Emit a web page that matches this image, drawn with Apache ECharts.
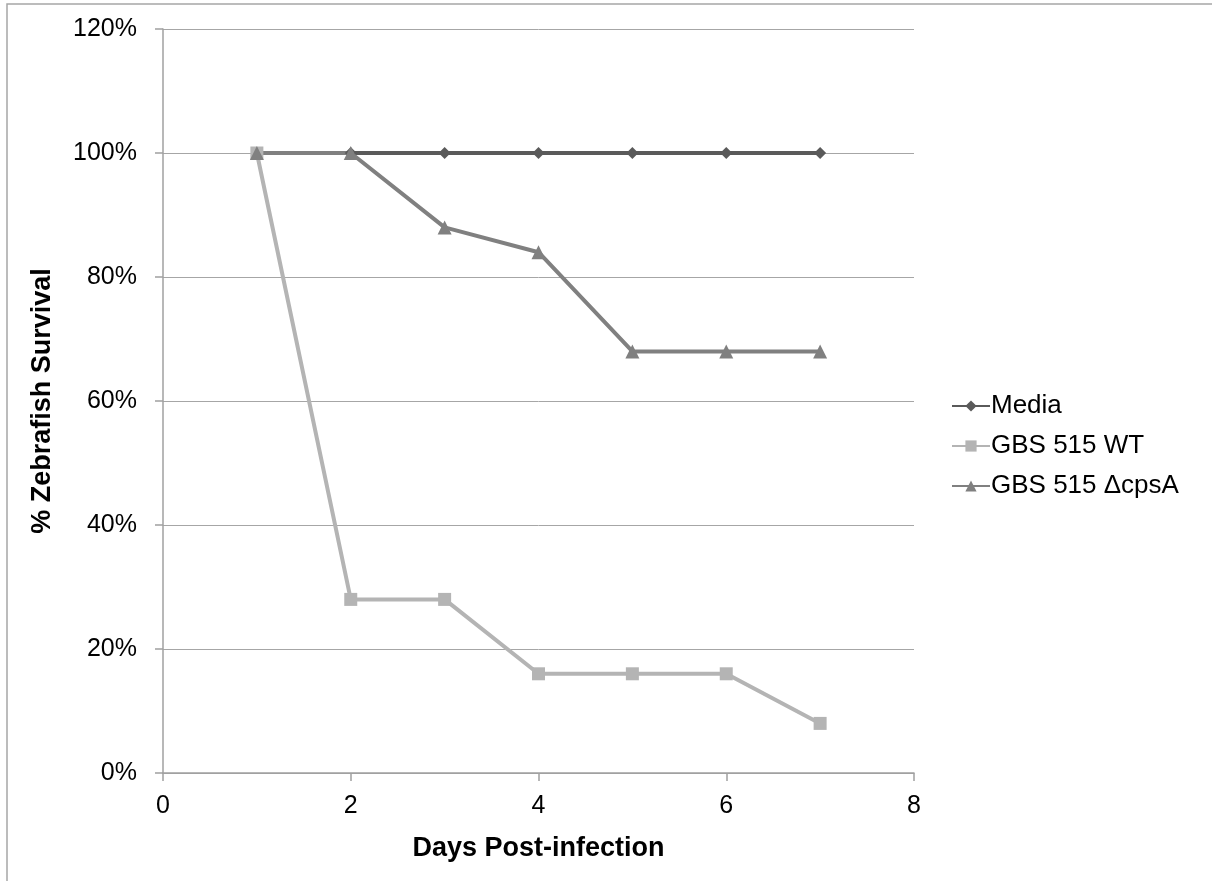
<!DOCTYPE html>
<html>
<head>
<meta charset="utf-8">
<script src="https://cdn.jsdelivr.net/npm/echarts@6/dist/echarts.min.js"></script>
<style>
  html, body { margin: 0; padding: 0; background: #fff; }
  #chart { width: 1212px; height: 881px; }
</style>
</head>
<body>
<div id="chart"></div>
<script>
// days post-infection
var days = [1, 2, 3, 4, 5, 6, 7];
// survival fractions
var media = [1, 1, 1, 1, 1, 1, 1];
var wt = [1, 0.28, 0.28, 0.16, 0.16, 0.16, 0.08];
var cpsA = [1, 1, 0.88, 0.84, 0.68, 0.68, 0.68];
var yTicks = [0, 0.2, 0.4, 0.6, 0.8, 1.0, 1.2];

function pairs(vals) {
    return days.map(function (d, i) { return [d, vals[i]]; });
}

var chart = echarts.init(document.getElementById('chart'));
var font = '"Liberation Sans", Arial, sans-serif';

chart.setOption({
    animation: false,
    textStyle: {fontFamily: font},
    graphic: [{
        type: 'rect',
        shape: {x: 7, y: 4, width: 1230, height: 900},
        style: {fill: 'none', stroke: '#a6a6a6', lineWidth: 1.5},
        silent: true
    }],
    grid: {left: 163, right: 298, top: 29, bottom: 108},
    xAxis: {
        type: 'value',
        min: 0, max: 8, interval: 2,
        name: 'Days Post-infection',
        nameLocation: 'middle',
        nameGap: 62,
        nameTextStyle: {fontSize: 27, fontWeight: 'bold', color: '#000'},
        axisLine: {lineStyle: {color: '#a0a0a0', width: 1.5}},
        axisTick: {show: true, length: 8, lineStyle: {color: '#a0a0a0', width: 1.5}},
        axisLabel: {fontSize: 25, color: '#000', margin: 21},
        splitLine: {show: false}
    },
    yAxis: {
        type: 'value',
        min: 0, max: 1.2, interval: 0.2,
        name: '% Zebrafish Survival',
        nameLocation: 'middle',
        nameGap: 107,
        nameTextStyle: {fontSize: 27, fontWeight: 'bold', color: '#000'},
        axisLine: {show: true, lineStyle: {color: '#a0a0a0', width: 1.5}},
        axisTick: {show: true, length: 8, lineStyle: {color: '#a0a0a0', width: 1.5}},
        axisLabel: {
            fontSize: 25, color: '#000', margin: 26,
            formatter: function (v) { return Math.round(v * 100) + '%'; }
        },
        splitLine: {lineStyle: {color: '#a6a6a6', width: 1}}
    },
    legend: {
        orient: 'vertical',
        left: 946,
        top: 388,
        itemGap: 14,
        itemWidth: 38,
        itemHeight: 14,
        textStyle: {fontSize: 26, lineHeight: 26, color: '#000', padding: [0, 0, 0, -4]},
        data: ['Media', 'GBS 515 WT', 'GBS 515 \u0394cpsA']
    },
    series: [{
        name: 'Media',
        type: 'line',
        data: pairs(media),
        symbol: 'diamond',
        symbolSize: 12,
        lineStyle: {color: '#5a5a5a', width: 4},
        itemStyle: {color: '#5a5a5a'}
    }, {
        name: 'GBS 515 WT',
        type: 'line',
        data: pairs(wt),
        symbol: 'rect',
        symbolSize: 13,
        lineStyle: {color: '#b4b4b4', width: 4},
        itemStyle: {color: '#b4b4b4'}
    }, {
        name: 'GBS 515 \u0394cpsA',
        type: 'line',
        data: pairs(cpsA),
        symbol: 'triangle',
        symbolSize: 14,
        lineStyle: {color: '#808080', width: 4},
        itemStyle: {color: '#808080'}
    }]
});
</script>
</body>
</html>
